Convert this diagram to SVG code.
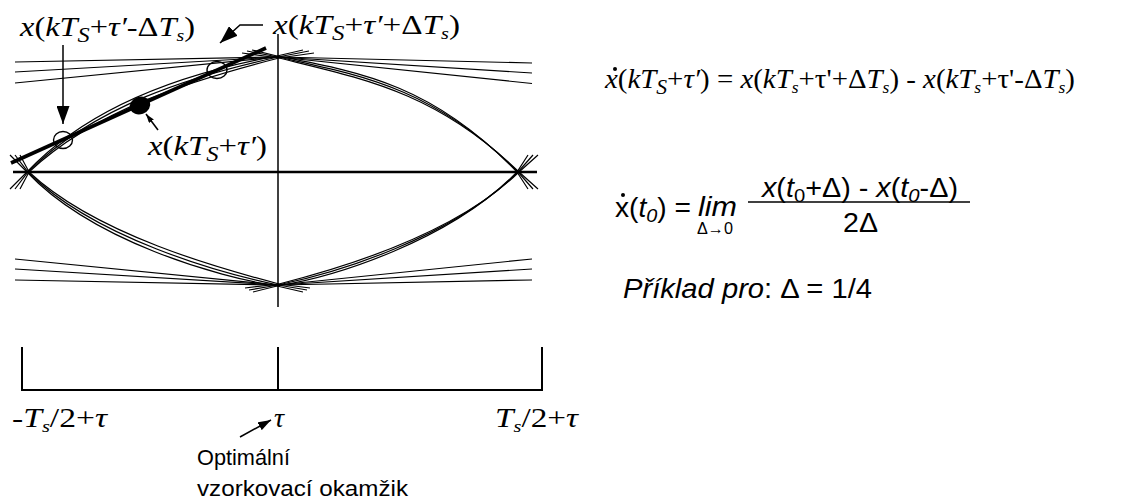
<svg xmlns="http://www.w3.org/2000/svg" width="1137" height="502" viewBox="0 0 1137 502">
<style>
.bg{fill:#fff}
.thin{fill:none;stroke:#000;stroke-width:1.2}
.axis{fill:none;stroke:#000;stroke-width:1.5}
.haxis{fill:none;stroke:#000;stroke-width:2.6}
.thick{fill:none;stroke:#000;stroke-width:3.6;stroke-linecap:butt}
.brk{fill:none;stroke:#000;stroke-width:2}
.conn{fill:none;stroke:#000;stroke-width:1.5}
.tm{font-family:"Liberation Serif","Times New Roman",serif;font-size:28px;fill:#000}
.ar{font-family:"Liberation Sans",Arial,sans-serif;font-size:27px;fill:#000}
.i{font-style:italic}
.s1{font-size:21px}
.s2{font-size:17px}
.sa{font-size:19px}
.f15{font-size:16px}
.f22{font-size:22px}
</style>
<defs>
<marker id="ahBig" viewBox="0 0 18 13" refX="18" refY="6.5" markerWidth="18" markerHeight="13" markerUnits="userSpaceOnUse" orient="auto"><path d="M0,0 L18,6.5 L0,13 z" fill="#000"/></marker>
<marker id="ahMid" viewBox="0 0 13 9" refX="13" refY="4.5" markerWidth="13" markerHeight="9" markerUnits="userSpaceOnUse" orient="auto"><path d="M0,0 L13,4.5 L0,9 z" fill="#000"/></marker>
<marker id="ahSmall" viewBox="0 0 9 6" refX="9" refY="3" markerWidth="9" markerHeight="6" markerUnits="userSpaceOnUse" orient="auto"><path d="M0,0 L9,3 L0,6 z" fill="#000"/></marker>
</defs>
<rect class="bg" x="0" y="0" width="1137" height="502"/>

<g id="eye">
<line class="axis" x1="278" y1="34" x2="278" y2="307"/>
<line class="haxis" x1="13" y1="172" x2="537" y2="172"/>
<!-- upper-left arcs (extend past the top crossing) -->
<path class="thin" d="M10,189 L27,172 C92,103 189,72 277,56 L303,50"/>
<path class="thin" d="M15,189 L28,172 C94,106 191,76 278,57 L309,51"/>
<path class="thin" d="M20,189 L29,172 C96,109 193,80 279,58 L314,53"/>
<!-- upper-right arcs -->
<path class="thin" d="M252,50 L277,56 C360,72 432,84 517,172 L528,189"/>
<path class="thin" d="M247,51 L278,57 C362,75.5 434,88 518,172 L533,189"/>
<path class="thin" d="M242,53 L279,58 C364,79 436,92 519,172 L538,189"/>
<!-- lower-left arcs -->
<path class="thin" d="M10,155 L27,172 C92,241 218,277 277,286 L303,292"/>
<path class="thin" d="M15,155 L28,172 C94,238 220,273 278,285 L307,290"/>
<path class="thin" d="M20,155 L29,172 C96,235 222,269 279,284 L310,288"/>
<!-- lower-right arcs -->
<path class="thin" d="M253,292 L277,286 C334,277 450,241 517,172 L528,155"/>
<path class="thin" d="M249,290 L278,285 C336,273 452,238 518,172 L533,155"/>
<path class="thin" d="M245,288 L279,284 C338,269 454,235 519,172 L538,155"/>
<!-- fans -->
<line class="thin" x1="15" y1="62" x2="278" y2="57"/>
<line class="thin" x1="15" y1="72" x2="278" y2="57"/>
<line class="thin" x1="15" y1="83" x2="278" y2="57"/>
<line class="thin" x1="532" y1="63" x2="278" y2="57"/>
<line class="thin" x1="532" y1="73" x2="278" y2="57"/>
<line class="thin" x1="532" y1="83.5" x2="278" y2="57"/>
<line class="thin" x1="15" y1="259" x2="278" y2="285"/>
<line class="thin" x1="15" y1="269" x2="278" y2="285"/>
<line class="thin" x1="15" y1="280" x2="278" y2="285"/>
<line class="thin" x1="532" y1="259" x2="278" y2="285"/>
<line class="thin" x1="532" y1="269" x2="278" y2="285"/>
<line class="thin" x1="532" y1="280" x2="278" y2="285"/>
<!-- tangent line and sample points -->
<line class="thick" x1="11" y1="163" x2="266" y2="48"/>
<ellipse cx="63" cy="140" rx="9.5" ry="8.5" fill="none" stroke="#000" stroke-width="1.4"/>
<ellipse cx="217" cy="70" rx="10" ry="8.5" fill="none" stroke="#000" stroke-width="1.4"/>
<ellipse cx="140" cy="105.5" rx="10.5" ry="8.7" fill="#000" transform="rotate(-20 140 105.5)"/>
</g>

<g id="bracket">
<path class="brk" d="M22,347 L22,390 L542,390 L542,347"/>
<line class="brk" x1="278" y1="347" x2="278" y2="390"/>
</g>

<g id="connectors">
<line class="conn" x1="63" y1="45" x2="63" y2="124" marker-end="url(#ahBig)"/>
<polyline class="conn" points="263,25 240,25 220,43" marker-end="url(#ahBig)"/>
<line class="conn" x1="158" y1="130" x2="146" y2="114" stroke-width="1.2" marker-end="url(#ahSmall)"/>
<line class="conn" x1="240" y1="437" x2="271" y2="420" stroke-width="1.3" marker-end="url(#ahMid)"/>
</g>

<g id="label-minus">
<text class="tm" x="20" y="36" textLength="175" lengthAdjust="spacingAndGlyphs"><tspan class="i">x</tspan>(<tspan class="i">kT</tspan><tspan class="i s1" dy="6">S</tspan><tspan dy="-6">+</tspan><tspan class="i">τ′</tspan>-Δ<tspan class="i">T</tspan><tspan class="i s2" dy="5">s</tspan><tspan dy="-5">)</tspan></text>
</g>
<g id="label-plus">
<text class="tm" x="273" y="34" textLength="187" lengthAdjust="spacingAndGlyphs"><tspan class="i">x</tspan>(<tspan class="i">kT</tspan><tspan class="i s1" dy="6">S</tspan><tspan dy="-6">+</tspan><tspan class="i">τ′</tspan>+Δ<tspan class="i">T</tspan><tspan class="i s2" dy="5">s</tspan><tspan dy="-5">)</tspan></text>
</g>
<g id="label-center">
<text class="tm" x="148" y="155" textLength="119" lengthAdjust="spacingAndGlyphs"><tspan class="i">x</tspan>(<tspan class="i">kT</tspan><tspan class="i s1" dy="6">S</tspan><tspan dy="-6">+</tspan><tspan class="i">τ′</tspan>)</text>
</g>

<g id="formula1">
<circle cx="615" cy="69" r="2" fill="#000"/>
<text class="tm" x="605" y="88" textLength="470" lengthAdjust="spacingAndGlyphs"><tspan class="i">x</tspan>(<tspan class="i">kT</tspan><tspan class="i s1" dy="6">S</tspan><tspan dy="-6">+</tspan><tspan class="i">τ′</tspan>) = <tspan class="i">x</tspan>(<tspan class="i">kT</tspan><tspan class="i s2" dy="5">s</tspan><tspan dy="-5">+τ'+Δ</tspan><tspan class="i">T</tspan><tspan class="i s2" dy="5">s</tspan><tspan dy="-5">) - </tspan><tspan class="i">x</tspan>(<tspan class="i">kT</tspan><tspan class="i s2" dy="5">s</tspan><tspan dy="-5">+τ'-Δ</tspan><tspan class="i">T</tspan><tspan class="i s2" dy="5">s</tspan><tspan dy="-5">)</tspan></text>
</g>

<g id="formula2">
<circle cx="623" cy="195" r="2" fill="#000"/>
<text class="ar" x="615" y="217" textLength="76" lengthAdjust="spacingAndGlyphs">x(<tspan class="i">t</tspan><tspan class="i sa" dy="5">0</tspan><tspan dy="-5">) =</tspan></text>
<text class="ar i" x="698" y="216" textLength="39" lengthAdjust="spacingAndGlyphs">lim</text>
<text class="ar f15" x="697" y="234" textLength="36" lengthAdjust="spacingAndGlyphs">Δ→0</text>
<text class="ar" x="762" y="197" textLength="196" lengthAdjust="spacingAndGlyphs"><tspan class="i">x</tspan>(<tspan class="i">t</tspan><tspan class="sa" dy="5">0</tspan><tspan dy="-5">+Δ) - </tspan><tspan class="i">x</tspan>(<tspan class="i">t</tspan><tspan class="i sa" dy="5">0</tspan><tspan dy="-5">-Δ)</tspan></text>
<line x1="748" y1="202" x2="970" y2="202" stroke="#000" stroke-width="1.6"/>
<text class="ar" x="843" y="232" textLength="35" lengthAdjust="spacingAndGlyphs">2Δ</text>
</g>

<g id="example">
<text class="ar" x="623" y="298" textLength="249" lengthAdjust="spacingAndGlyphs"><tspan class="i">Příklad pro</tspan>: Δ = 1/4</text>
</g>

<g id="axis-labels">
<text class="tm" x="12" y="427" textLength="95" lengthAdjust="spacingAndGlyphs">-<tspan class="i">T</tspan><tspan class="i s2" dy="5">s</tspan><tspan dy="-5">/2+</tspan><tspan class="i">τ</tspan></text>
<text class="tm i" x="274" y="427">τ</text>
<text class="tm" x="495" y="427" textLength="83" lengthAdjust="spacingAndGlyphs"><tspan class="i">T</tspan><tspan class="i s2" dy="5">s</tspan><tspan dy="-5">/2+</tspan><tspan class="i">τ</tspan></text>
</g>

<g id="optimal-label">
<text class="ar f22" x="197" y="465" textLength="93" lengthAdjust="spacingAndGlyphs">Optimální</text>
<text class="ar f22" x="197" y="496" textLength="211" lengthAdjust="spacingAndGlyphs">vzorkovací okamžik</text>
</g>
</svg>
